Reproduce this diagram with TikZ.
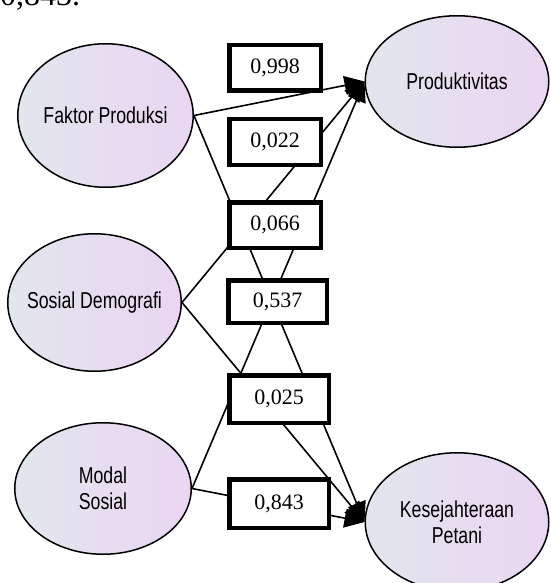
\documentclass[tikz,border=0pt]{standalone}
\usepackage{fontspec}
\setmainfont{Liberation Serif}
\newfontfamily\narrowsans[FakeStretch=0.77]{Liberation Sans}
\usetikzlibrary{positioning}
\usetikzlibrary{shapes.geometric,arrows.meta}
\definecolor{varleft}{RGB}{226,230,238}
\definecolor{varright}{RGB}{234,214,242}
\tikzset{
  latent/.style={ellipse, draw, line width=1.5pt, left color=varleft, right color=varright,
    inner sep=0pt, align=center, font=\narrowsans\fontsize{23}{26}\selectfont},
  coef/.style={rectangle, draw, line width=4.5pt, fill=white, inner sep=0pt,
    minimum width=91.5pt, minimum height=45.5pt, font=\fontsize{22}{24}\selectfont},
  widecoef/.style={coef, minimum width=99.5pt, minimum height=47.5pt},
  link/.style={line width=1.6pt, -{Triangle[length=20pt,width=19pt]}}
}

\begin{document}
\begin{tikzpicture}[x=1pt, y=-1pt]
  \useasboundingbox (0,0) rectangle (550,583);

  \node [anchor=base west, inner sep=0pt, font=\fontsize{32}{34}\selectfont] (prev) at (0,6) {0,843.};

  \node [latent, minimum width=171.5pt, minimum height=143.5pt] (fp) at (105.5,115.5) {Faktor Produksi};
  \node [latent, minimum width=183.5pt, minimum height=131.5pt] (prod) at (457,81.5) {Produktivitas};
  \node [latent, minimum width=173.5pt, minimum height=137.5pt] (sd) at (94.5,302.5) {\makebox[0pt]{Sosial Demografi}};
  \node [latent, minimum width=176.5pt, minimum height=131.5pt] (ms) at (103,488.5) {Modal\\Sosial};
  \node [latent, minimum width=183.5pt, minimum height=138.5pt] (kes) at (457,522) {Kesejahteraan\\Petani};

  \draw [link] (fp.east) -- (prod.west);
  \draw [link] (fp.east) -- (kes.west);
  \draw [link] (sd.east) -- (prod.west);
  \draw [link] (sd.east) -- (kes.west);
  \draw [link] (ms.east) -- (prod.west);
  \draw [link] (ms.east) -- (kes.west);

  \node [coef] (b1) at (275,68) {0,998};
  \node [coef, below=24pt of b1] (b2) {0,022};
  \node [coef, below=33pt of b2] (b3) {0,066};
  \node [widecoef, minimum width=98.5pt, minimum height=42.5pt] (b4) at (277.5,301.5) {\raisebox{-5pt}{0,537}};
  \node [widecoef] (b5) at (279,399) {0,025};
  \node [widecoef, minimum height=48.5pt, below=52pt of b5] (b6) {0,843};
\end{tikzpicture}
\end{document}
